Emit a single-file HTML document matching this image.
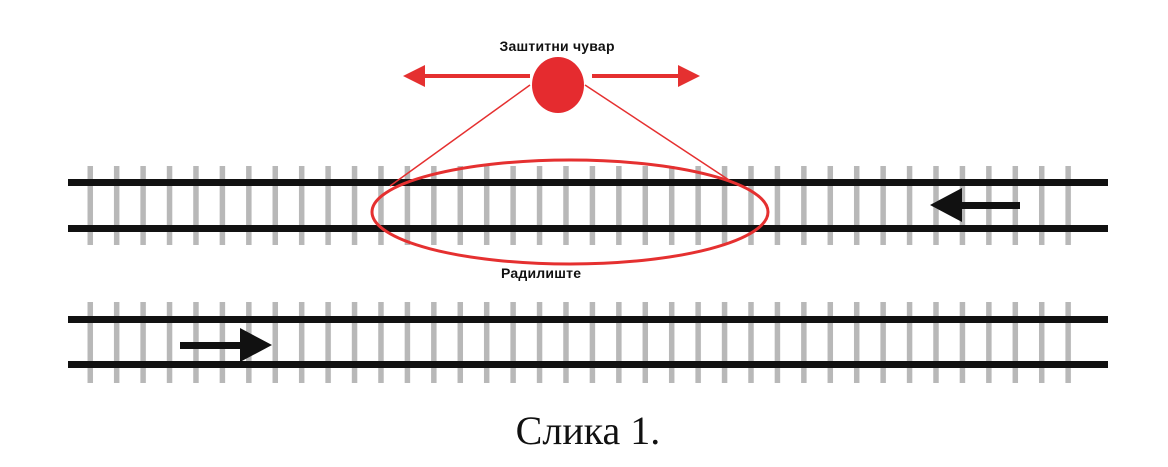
<!DOCTYPE html>
<html><head><meta charset="utf-8"><style>body{margin:0;background:#fff}svg{display:block}</style></head><body>
<svg width="1168" height="467" xmlns="http://www.w3.org/2000/svg">
<defs>
<pattern id="t" x="87.5" y="0" width="26.43" height="467" patternUnits="userSpaceOnUse"><rect x="0" y="0" width="5.5" height="467" fill="#b8b8b8"/></pattern>
</defs>
<rect x="87" y="166" width="985" height="79" fill="url(#t)"/>
<rect x="87" y="302" width="985" height="81" fill="url(#t)"/>
<rect x="68" y="179" width="1040" height="7" fill="#111"/>
<rect x="68" y="225" width="1040" height="7" fill="#111"/>
<rect x="68" y="316" width="1040" height="7" fill="#111"/>
<rect x="68" y="361" width="1040" height="7" fill="#111"/>
<polygon points="930,205 962,188 962,222" fill="#111"/><rect x="960" y="202" width="60" height="7" fill="#111"/>
<polygon points="272,345 240,328 240,362" fill="#111"/><rect x="180" y="342" width="62" height="7" fill="#111"/>
<ellipse cx="570" cy="212" rx="198" ry="52" fill="none" stroke="#e53030" stroke-width="3"/>
<line x1="530" y1="85" x2="390" y2="186" stroke="#e53030" stroke-width="1.5"/>
<line x1="585" y1="85" x2="732" y2="182" stroke="#e53030" stroke-width="1.5"/>
<ellipse cx="558" cy="85" rx="26" ry="28" fill="#e52b2f"/>
<rect x="425" y="74" width="105" height="4" fill="#e53030"/><polygon points="403,76 425,65 425,87" fill="#e53030"/>
<rect x="592" y="74" width="88" height="4" fill="#e53030"/><polygon points="700,76 678,65 678,87" fill="#e53030"/>
<text x="557" y="51" font-family="Liberation Sans, sans-serif" font-weight="bold" font-size="14" text-anchor="middle" fill="#111" textLength="115">Заштитни чувар</text>
<text x="541" y="278" font-family="Liberation Sans, sans-serif" font-weight="bold" font-size="14" text-anchor="middle" fill="#111" textLength="80">Радилиште</text>
<text x="588" y="444" font-family="Liberation Serif, serif" font-size="40" text-anchor="middle" fill="#111">Слика 1.</text>
</svg>
</body></html>
